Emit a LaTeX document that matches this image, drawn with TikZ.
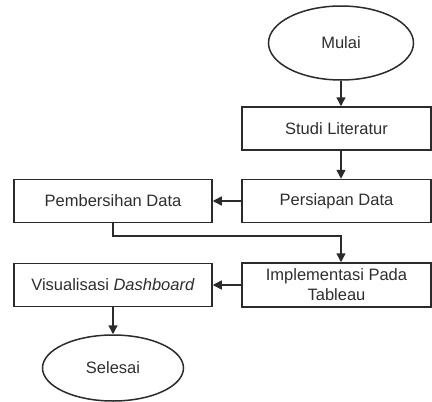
\documentclass[tikz,border=0pt]{standalone}
\usepackage{fontspec}
\setmainfont{Liberation Sans}
\usetikzlibrary{arrows.meta,shapes.geometric}
\definecolor{linec}{HTML}{2B2B2B}
\definecolor{textc}{HTML}{2E2E2E}
\begin{document}
\begin{tikzpicture}[x=1pt,y=-1pt,
  every node/.style={font=\fontsize{16.5}{20}\selectfont, text=textc},
  procbox/.style={draw=linec, line width=1.5pt, minimum width=198pt, minimum height=43pt, inner sep=0pt, align=center},
  terminal/.style={draw=linec, line width=1.5pt, ellipse, inner sep=0pt},
  flow/.style={draw=linec, line width=1.5pt, -{Triangle[length=9pt,width=9pt]}}]
\useasboundingbox (0,0) rectangle (432,402);
\node[terminal, minimum width=145pt, minimum height=74pt] (mulai) at (341,43) {Mulai};
\node[procbox, minimum width=189pt] (studi) at (336.5,128.5) {Studi Literatur};
\node[procbox, minimum width=189pt] (persiapan) at (336.5,201) {Persiapan Data};
\node[procbox] (bersih) at (113,201) {Pembersihan Data};
\node[procbox, minimum width=189pt, minimum height=44pt] (impl) at (336.5,285) {Implementasi Pada\\Tableau};
\node[procbox] (visual) at (113,285) {Visualisasi \textit{Dashboard}};
\node[terminal, minimum width=141pt, minimum height=66pt] (selesai) at (113,368) {Selesai};
\coordinate (c1) at (113,236);
\coordinate (c2) at (341,236);
\draw[flow] (mulai) -- (studi.north -| mulai);
\draw[flow] (studi.south -| mulai) -- (persiapan.north -| mulai);
\draw[flow] (persiapan) -- (bersih);
\draw[flow] (bersih.south) -- (c1) -- (c2) -- (impl.north -| c2);
\draw[flow] (impl) -- (visual);
\draw[flow] (visual) -- (selesai);
\end{tikzpicture}
\end{document}
